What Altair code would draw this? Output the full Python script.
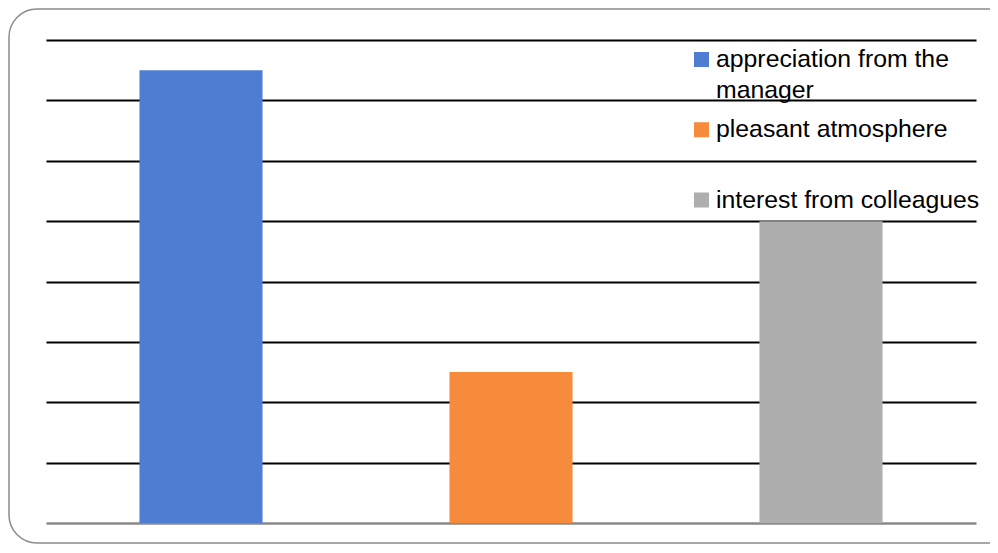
import altair as alt
import pandas as pd

categories = ["appreciation from the manager", "pleasant atmosphere", "interest from colleagues"]
values = [7.5, 2.5, 5.0]
colors = ["#4E7DD1", "#F68B3C", "#AEAEAE"]
legend_labels = ["appreciation from the\nmanager", "pleasant atmosphere", "interest from colleagues"]

df = pd.DataFrame({"category": categories, "value": values, "label": legend_labels})

W, H = 930, 483
color_scale = alt.Scale(domain=categories, range=colors)

bars = alt.Chart(df).mark_bar(strokeWidth=0).encode(
    x=alt.X("category:N", sort=categories,
            scale=alt.Scale(paddingInner=0.603, paddingOuter=0.3015), axis=None),
    y=alt.Y("value:Q", scale=alt.Scale(domain=[0, 8], nice=False),
            axis=alt.Axis(values=[0, 1, 2, 3, 4, 5, 6, 7, 8], labels=False, ticks=False,
                          domain=False, title=None, grid=True,
                          gridColor={"expr": "datum.value == 0 ? '#8a8a8a' : '#000000'"},
                          gridWidth={"expr": "datum.value == 0 ? 2.5 : 2"},
                          gridOpacity=1)),
    color=alt.Color("category:N", scale=color_scale, legend=None),
)

leg_y = alt.Y("category:N", sort=categories,
              scale=alt.Scale(domain=categories, range=[19.5, 160], padding=0), axis=None)

leg_sq = alt.Chart(df).mark_square(size=225, opacity=1, strokeWidth=0).encode(
    x=alt.value(655.5),
    y=leg_y,
    color=alt.Color("category:N", scale=color_scale, legend=None),
)

leg_txt = alt.Chart(df).mark_text(
    align="left", baseline="alphabetic", dy=7.5, lineBreak="\n", lineHeight=31,
    font="Liberation Sans", fontSize=24.8, color="#000000"
).encode(
    x=alt.value(670),
    y=leg_y,
    text="label:N",
)

border = alt.Chart(pd.DataFrame({"k": [0]})).mark_rect(
    fill="transparent", stroke="#8c8c8c", strokeWidth=1.5, cornerRadius=28
).encode(
    x=alt.value(-37), x2=alt.value(975), y=alt.value(-31), y2=alt.value(503)
)

chart = alt.layer(border, bars, leg_sq, leg_txt).resolve_scale(y="independent").properties(
    width=W, height=H,
    padding={"left": 38, "top": 32, "right": 14, "bottom": 22},
    autosize=alt.AutoSizeParams(type="none"),
    background="white",
).configure_view(strokeWidth=0)

chart.save("out.html", embed_options={"renderer": "svg", "actions": False})
